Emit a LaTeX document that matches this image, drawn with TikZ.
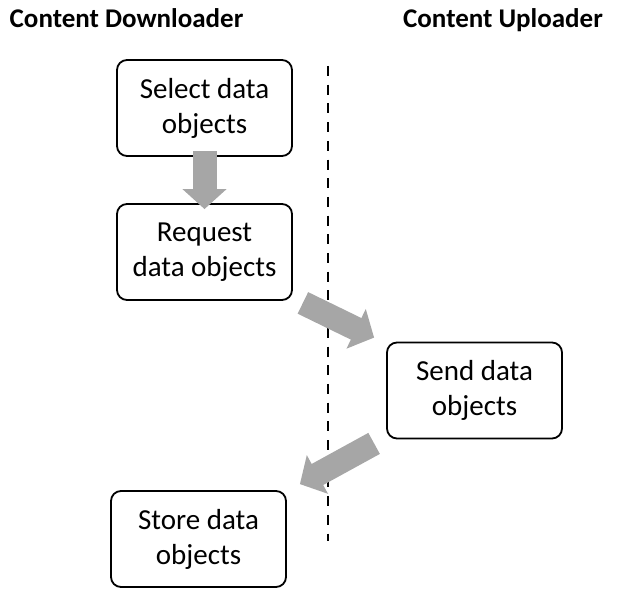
\documentclass[tikz,border=0pt]{standalone}
\usepackage{fontspec}
\setmainfont{Carlito}
\usetikzlibrary{arrows.meta}
\definecolor{arrowgray}{HTML}{A6A6A6}
\begin{document}
\begin{tikzpicture}[x=1bp,y=-1bp,
 box/.style={draw, line width=1.8bp, rounded corners=10bp, minimum width=175bp, minimum height=96bp, align=center, font=\fontsize{29bp}{35bp}\selectfont, inner sep=0pt},
 titletext/.style={font=\bfseries\fontsize{27bp}{32bp}\selectfont, inner sep=0pt, anchor=base},
 blockarrow/.style={draw=arrowgray, line width=24bp, -{Triangle[width=43bp,length=20bp]}},
 divider/.style={line width=2.5bp, dash pattern=on 10bp off 8.7bp},
]
\useasboundingbox (0,0) rectangle (632,589);
\node[titletext] (t1) at (126.5,28) {Content Downloader};
\node[titletext] (t2) at (503,28) {Content Uploader};
\coordinate (dtop) at (328,66);
\coordinate (dbot) at (328,541);
\draw[divider] (dtop) -- (dbot);
\node[box] (sel) at (204.5,108) {Select data\\objects};
\node[box] (req) at (204.5,252) {Request\\data objects};
\node[box] (snd) at (474.5,390.5) {Send data\\objects};
\node[box] (sto) at (198.5,539) {Store data\\objects};
\coordinate (a0s) at ([yshift=6]sel.south);
\coordinate (a0e) at ([yshift=-6]req.north);
\draw[blockarrow] (a0s) -- (a0e);
\coordinate (a1s) at ([shift={(10,2)}]req.south east);
\coordinate (a1e) at ([shift={(-12,-4)}]snd.north west);
\draw[blockarrow] (a1s) -- (a1e);
\coordinate (a2s) at ([shift={(-12,4)}]snd.south west);
\coordinate (a2e) at ([shift={(13,-6)}]sto.north east);
\draw[blockarrow] (a2s) -- (a2e);
\end{tikzpicture}
\end{document}
